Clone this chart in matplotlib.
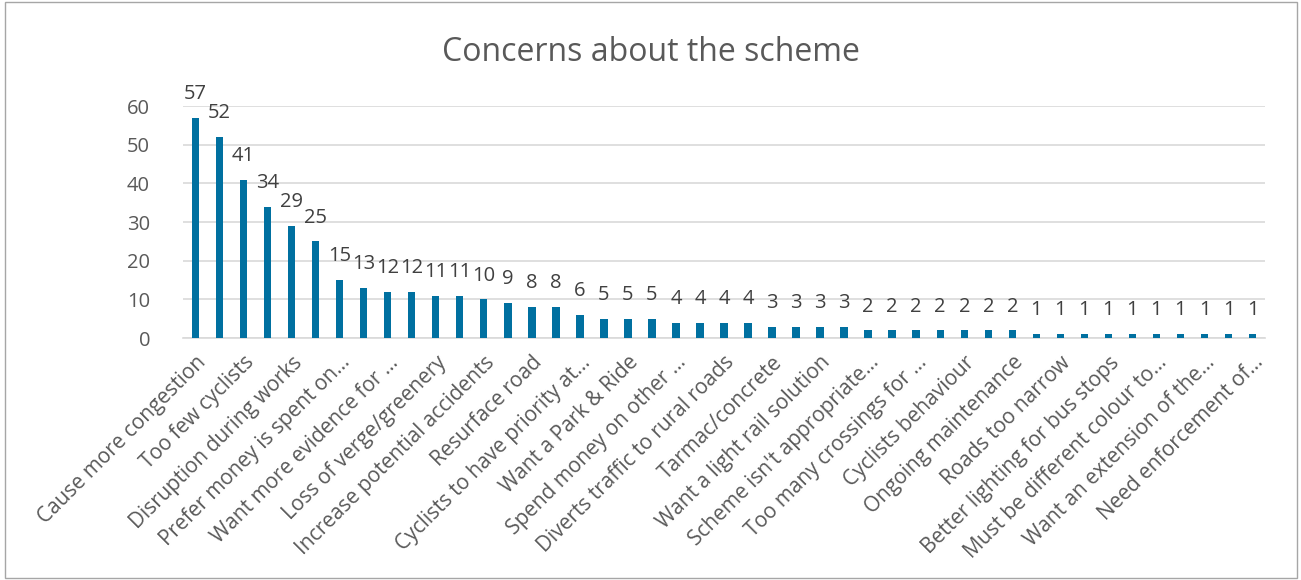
import matplotlib.pyplot as plt
import numpy as np
from matplotlib.patches import Rectangle

# every concern in order; only every other one carries a readable axis label
counts = [57, 52, 41, 34, 29, 25, 15, 13, 12, 12, 11, 11, 10, 9, 8, 8, 6,
          5, 5, 5, 4, 4, 4, 4, 3, 3, 3, 3, 2, 2, 2, 2, 2, 2, 2,
          1, 1, 1, 1, 1, 1, 1, 1, 1, 1]
shown_labels = ['Cause more congestion', 'Too few cyclists', 'Disruption during works',
                'Prefer money is spent on\u2026', 'Want more evidence for \u2026',
                'Loss of verge/greenery', 'Increase potential accidents', 'Resurface road',
                'Cyclists to have priority at\u2026', 'Want a Park & Ride',
                'Spend money on other \u2026', 'Diverts traffic to rural roads',
                'Tarmac/concrete', 'Want a light rail solution',
                "Scheme isn't appropriate\u2026", 'Too many crossings for \u2026',
                'Cyclists behaviour', 'Ongoing maintenance', 'Roads too narrow',
                'Better lighting for bus stops', 'Must be different colour to\u2026',
                'Want an extension of the\u2026', 'Need enforcement of\u2026']

plt.rcParams['font.family'] = ['Open Sans', 'DejaVu Sans']
grey = '#595959'

fig = plt.figure(figsize=(13.01, 5.80), dpi=100)
ax = fig.add_axes([0.141, 0.417, 0.831, 0.4])

x = np.arange(len(counts))
ax.bar(x, counts, width=0.31, color='#0070A0', zorder=3)
for xi, c in zip(x, counts):
    ax.annotate(str(c), (xi, c), xytext=(0, 10), textcoords='offset points',
                ha='center', va='bottom', fontsize=14.5, color='#404040')

ax.set_xlim(-0.5, len(counts) - 0.5)
ax.set_ylim(0, 60)
ax.set_yticks(range(0, 61, 10))
ax.set_xticks(x[::2])
ax.set_xticklabels(shown_labels, rotation=45, ha='right', rotation_mode='anchor',
                   fontsize=15, color=grey)
ax.tick_params(axis='x', length=0, pad=10)
ax.tick_params(axis='y', length=0, pad=24, labelsize=14.5, labelcolor=grey)
ax.grid(axis='y', color='#D9D9D9', linewidth=1.2, zorder=0)
for s in ['top', 'right', 'left']:
    ax.spines[s].set_visible(False)
ax.spines['bottom'].set_color('#D9D9D9')
ax.spines['bottom'].set_linewidth(1.2)

fig.text(0.5, 0.91, 'Concerns about the scheme', ha='center', va='center',
         fontsize=23, color=grey)
fig.patches.append(Rectangle((0.004, 0.003), 0.993, 0.994, transform=fig.transFigure,
                             fill=False, edgecolor='#A6A6A6', linewidth=1))

fig.savefig('out.png', dpi=100)
